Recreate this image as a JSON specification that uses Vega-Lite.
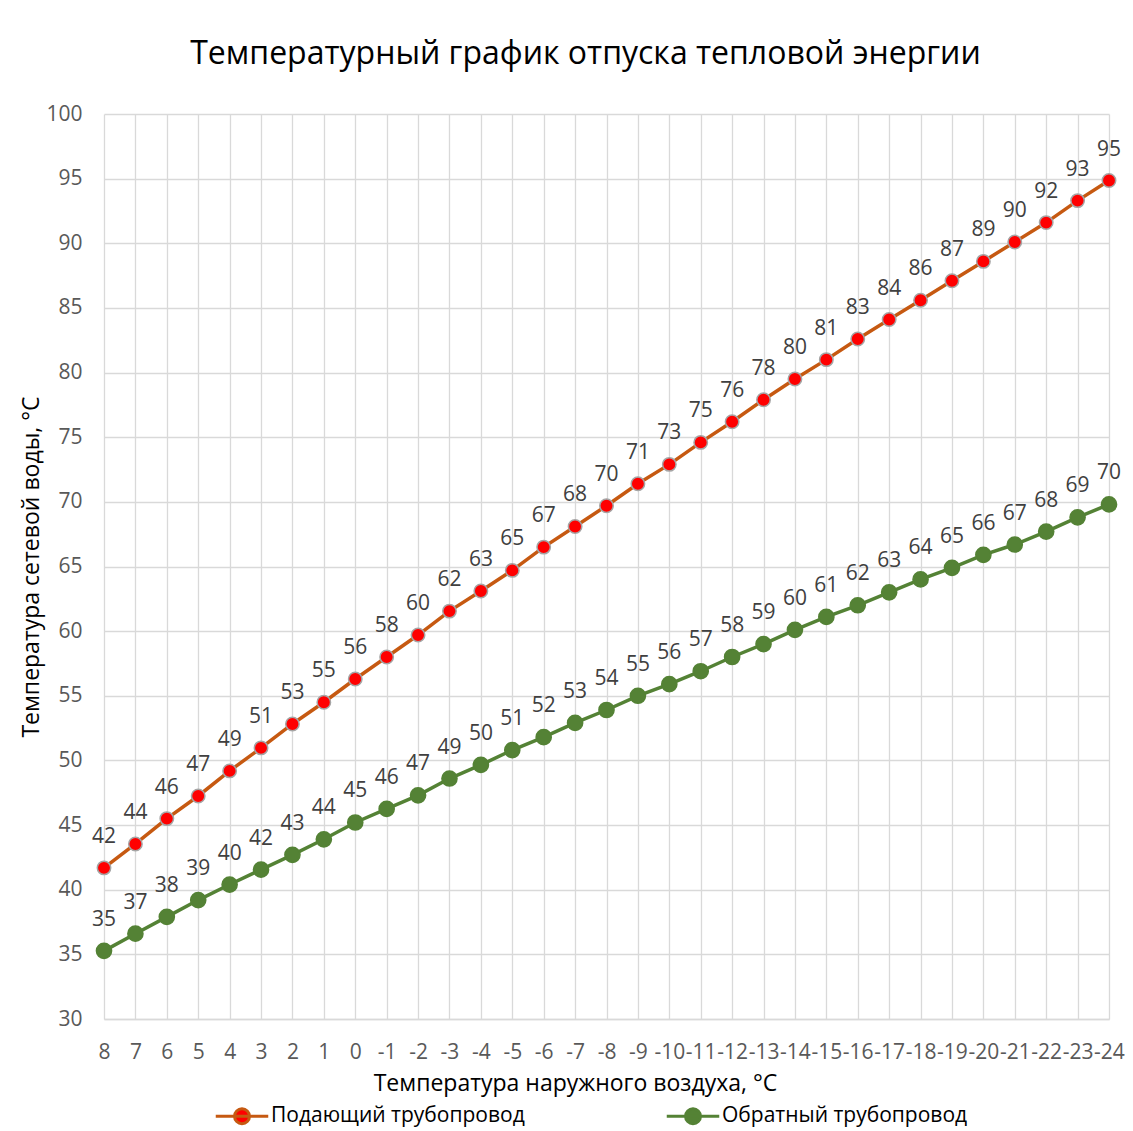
{
  "$schema": "https://vega.github.io/schema/vega-lite/v6.json",
  "autosize": {"type": "none"},
  "padding": {"left": 104, "top": 114, "right": 24, "bottom": 112},
  "width": 1005,
  "height": 905,
  "background": "white",
  "config": {
    "font": "Open Sans",
    "view": {"stroke": null},
    "axis": {"gridColor": "#d9d9d9", "gridWidth": 1.3, "domain": false, "ticks": false}
  },
  "title": {
    "text": "Температурный график отпуска тепловой энергии",
    "fontSize": 32,
    "fontWeight": "normal",
    "color": "#000000",
    "anchor": "middle",
    "dx": -21,
    "offset": 32
  },
  "data": {
    "values": [
      {"t": "8", "series": "Подающий трубопровод", "v": 41.69},
      {"t": "7", "series": "Подающий трубопровод", "v": 43.54},
      {"t": "6", "series": "Подающий трубопровод", "v": 45.5},
      {"t": "5", "series": "Подающий трубопровод", "v": 47.25},
      {"t": "4", "series": "Подающий трубопровод", "v": 49.19},
      {"t": "3", "series": "Подающий трубопровод", "v": 50.97},
      {"t": "2", "series": "Подающий трубопровод", "v": 52.82},
      {"t": "1", "series": "Подающий трубопровод", "v": 54.5},
      {"t": "0", "series": "Подающий трубопровод", "v": 56.3},
      {"t": "-1", "series": "Подающий трубопровод", "v": 58.0},
      {"t": "-2", "series": "Подающий трубопровод", "v": 59.7},
      {"t": "-3", "series": "Подающий трубопровод", "v": 61.55},
      {"t": "-4", "series": "Подающий трубопровод", "v": 63.1},
      {"t": "-5", "series": "Подающий трубопровод", "v": 64.7},
      {"t": "-6", "series": "Подающий трубопровод", "v": 66.5},
      {"t": "-7", "series": "Подающий трубопровод", "v": 68.1},
      {"t": "-8", "series": "Подающий трубопровод", "v": 69.7},
      {"t": "-9", "series": "Подающий трубопровод", "v": 71.4},
      {"t": "-10", "series": "Подающий трубопровод", "v": 72.9},
      {"t": "-11", "series": "Подающий трубопровод", "v": 74.6},
      {"t": "-12", "series": "Подающий трубопровод", "v": 76.2},
      {"t": "-13", "series": "Подающий трубопровод", "v": 77.9},
      {"t": "-14", "series": "Подающий трубопровод", "v": 79.5},
      {"t": "-15", "series": "Подающий трубопровод", "v": 81.0},
      {"t": "-16", "series": "Подающий трубопровод", "v": 82.6},
      {"t": "-17", "series": "Подающий трубопровод", "v": 84.1},
      {"t": "-18", "series": "Подающий трубопровод", "v": 85.6},
      {"t": "-19", "series": "Подающий трубопровод", "v": 87.1},
      {"t": "-20", "series": "Подающий трубопровод", "v": 88.6},
      {"t": "-21", "series": "Подающий трубопровод", "v": 90.1},
      {"t": "-22", "series": "Подающий трубопровод", "v": 91.6},
      {"t": "-23", "series": "Подающий трубопровод", "v": 93.3},
      {"t": "-24", "series": "Подающий трубопровод", "v": 94.85},
      {"t": "8", "series": "Обратный трубопровод", "v": 35.27},
      {"t": "7", "series": "Обратный трубопровод", "v": 36.6},
      {"t": "6", "series": "Обратный трубопровод", "v": 37.9},
      {"t": "5", "series": "Обратный трубопровод", "v": 39.2},
      {"t": "4", "series": "Обратный трубопровод", "v": 40.4},
      {"t": "3", "series": "Обратный трубопровод", "v": 41.55},
      {"t": "2", "series": "Обратный трубопровод", "v": 42.7},
      {"t": "1", "series": "Обратный трубопровод", "v": 43.9},
      {"t": "0", "series": "Обратный трубопровод", "v": 45.2},
      {"t": "-1", "series": "Обратный трубопровод", "v": 46.25},
      {"t": "-2", "series": "Обратный трубопровод", "v": 47.3},
      {"t": "-3", "series": "Обратный трубопровод", "v": 48.6},
      {"t": "-4", "series": "Обратный трубопровод", "v": 49.65},
      {"t": "-5", "series": "Обратный трубопровод", "v": 50.8},
      {"t": "-6", "series": "Обратный трубопровод", "v": 51.8},
      {"t": "-7", "series": "Обратный трубопровод", "v": 52.9},
      {"t": "-8", "series": "Обратный трубопровод", "v": 53.9},
      {"t": "-9", "series": "Обратный трубопровод", "v": 55.0},
      {"t": "-10", "series": "Обратный трубопровод", "v": 55.9},
      {"t": "-11", "series": "Обратный трубопровод", "v": 56.9},
      {"t": "-12", "series": "Обратный трубопровод", "v": 58.0},
      {"t": "-13", "series": "Обратный трубопровод", "v": 59.0},
      {"t": "-14", "series": "Обратный трубопровод", "v": 60.1},
      {"t": "-15", "series": "Обратный трубопровод", "v": 61.1},
      {"t": "-16", "series": "Обратный трубопровод", "v": 62.0},
      {"t": "-17", "series": "Обратный трубопровод", "v": 63.0},
      {"t": "-18", "series": "Обратный трубопровод", "v": 64.0},
      {"t": "-19", "series": "Обратный трубопровод", "v": 64.9},
      {"t": "-20", "series": "Обратный трубопровод", "v": 65.9},
      {"t": "-21", "series": "Обратный трубопровод", "v": 66.7},
      {"t": "-22", "series": "Обратный трубопровод", "v": 67.7},
      {"t": "-23", "series": "Обратный трубопровод", "v": 68.8},
      {"t": "-24", "series": "Обратный трубопровод", "v": 69.8}
    ]
  },
  "encoding": {
    "x": {
      "field": "t",
      "type": "ordinal",
      "sort": null,
      "scale": {"type": "point", "padding": 0},
      "axis": {
        "grid": true,
        "title": "Температура наружного воздуха, °C",
        "titleFontSize": 23,
        "titleFontWeight": "normal",
        "titleColor": "#000000",
        "titleX": 471,
        "titlePadding": 10,
        "labelFontSize": 21,
        "labelColor": "#595959",
        "labelPadding": 22,
        "labelAngle": 0,
        "labelOverlap": false,
        "labelBound": false,
        "domain": true,
        "domainColor": "#d9d9d9",
        "domainWidth": 1.3
      }
    },
    "y": {
      "field": "v",
      "type": "quantitative",
      "scale": {"domain": [30, 100], "nice": false, "zero": false},
      "axis": {
        "values": [30, 35, 40, 45, 50, 55, 60, 65, 70, 75, 80, 85, 90, 95, 100],
        "title": "Температура сетевой воды, °С",
        "titleFontSize": 23,
        "titleFontWeight": "normal",
        "titleColor": "#000000",
        "titlePadding": 2,
        "labelFontSize": 21,
        "labelColor": "#595959",
        "labelPadding": 22
      }
    }
  },
  "layer": [
    {
      "mark": {"type": "line", "strokeWidth": 3.5},
      "encoding": {
        "stroke": {
          "field": "series",
          "type": "nominal",
          "scale": {"domain": ["Подающий трубопровод", "Обратный трубопровод"], "range": ["#C65911", "#548235"]},
          "legend": {
            "title": null,
            "orient": "none",
            "legendX": 124,
            "legendY": 988,
            "direction": "horizontal",
            "padding": 0,
            "symbolType": "M-2.1,0H2.1M-0.6,0A0.6,0.6 0 1 1 0.6,0A0.6,0.6 0 1 1 -0.6,0Z",
            "symbolSize": 625,
            "symbolStrokeWidth": 3,
            "labelFontSize": 21,
            "labelColor": "#000000",
            "labelLimit": 500,
            "labelOffset": 15,
            "columnPadding": 135
          }
        }
      }
    },
    {
      "mark": {"type": "point", "filled": true, "opacity": 1, "strokeWidth": 1.5},
      "encoding": {
        "fill": {
          "field": "series",
          "type": "nominal",
          "scale": {"domain": ["Подающий трубопровод", "Обратный трубопровод"], "range": ["#FF0000", "#548235"]},
          "legend": {
            "title": null,
            "orient": "none",
            "legendX": 124,
            "legendY": 988,
            "direction": "horizontal",
            "padding": 0,
            "symbolType": "M-2.1,0H2.1M-0.6,0A0.6,0.6 0 1 1 0.6,0A0.6,0.6 0 1 1 -0.6,0Z",
            "symbolSize": 625,
            "symbolStrokeWidth": 3,
            "labelFontSize": 21,
            "labelColor": "#000000",
            "labelLimit": 500,
            "labelOffset": 15,
            "columnPadding": 135
          }
        },
        "stroke": {
          "condition": {"test": "datum.series === 'Подающий трубопровод'", "value": "#A5A5A5"},
          "value": "#548235"
        },
        "size": {
          "condition": {"test": "datum.series === 'Подающий трубопровод'", "value": 180},
          "value": 230
        }
      }
    },
    {
      "mark": {"type": "text", "dy": -25, "baseline": "alphabetic", "fontSize": 21, "color": "#404040"},
      "encoding": {
        "text": {"field": "v", "type": "quantitative", "format": ".0f"}
      }
    }
  ]
}
